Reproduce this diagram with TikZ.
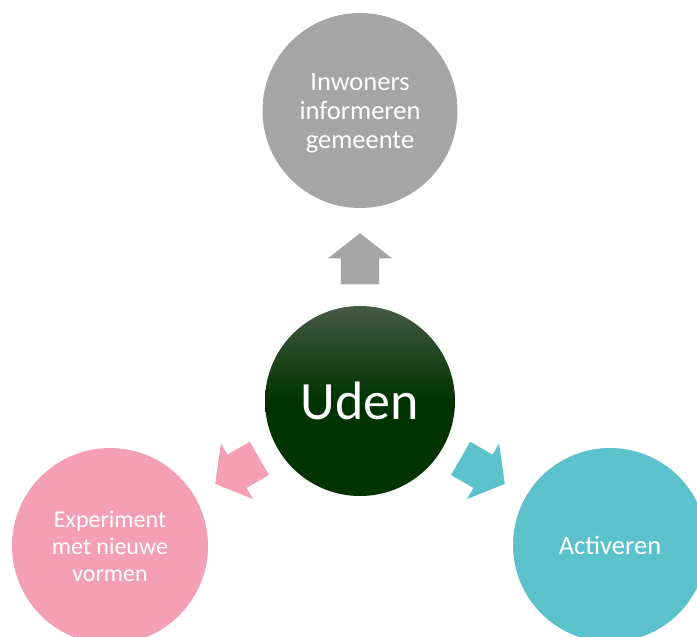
\documentclass[tikz,border=0pt]{standalone}
\usepackage{fontspec}
\setmainfont{Carlito}
\usetikzlibrary{shapes.arrows}

\definecolor{udengreen}{RGB}{0,51,0}
\definecolor{udenlight}{RGB}{68,90,68}
\definecolor{infogray}{RGB}{165,165,165}
\definecolor{exppink}{RGB}{245,159,182}
\definecolor{actteal}{RGB}{91,194,204}

\begin{document}
\begin{tikzpicture}[x=1pt,y=-1pt,
    bol/.style={circle, inner sep=0pt, text=white, align=center, text depth=0pt,
        font=\fontsize{26.5}{29}\selectfont},
    pijl/.style={single arrow, inner xsep=0pt, inner ysep=19pt, minimum height=51pt,
        minimum width=64pt, single arrow head extend=13pt,
        single arrow tip angle=104, anchor=tip}]
    \useasboundingbox (0,0) rectangle (697,637);
    \clip (0,0) rectangle (697,637);
    \coordinate (U) at (360,401);
    \coordinate (I) at (360,110.5);
    \coordinate (E) at (110,546);
    \coordinate (A) at (610,545);

    \node[bol, minimum size=190pt, top color=udenlight, bottom color=udengreen,
        middle color=udengreen, font=\fontsize{54}{60}\selectfont] (uden) at (U) {Uden};
    \node[bol, minimum size=195pt, fill=infogray] (inwoners) at (I)
        {Inwoners\\informeren\\gemeente};
    \node[bol, minimum size=196pt, fill=exppink, font=\fontsize{24}{27}\selectfont]
        (experiment) at (E) {Experiment\\met nieuwe\\vormen};
    \node[bol, minimum size=194pt, fill=actteal] (activeren) at (A) {Activeren};

    \node[pijl, fill=infogray, rotate=90] (pijlboven) at (360,233) {};
    \node[pijl, fill=exppink, rotate=210] (pijllinks) at (215,484) {};
    \node[pijl, fill=actteal, rotate=330] (pijlrechts) at (505,484) {};
\end{tikzpicture}
\end{document}
